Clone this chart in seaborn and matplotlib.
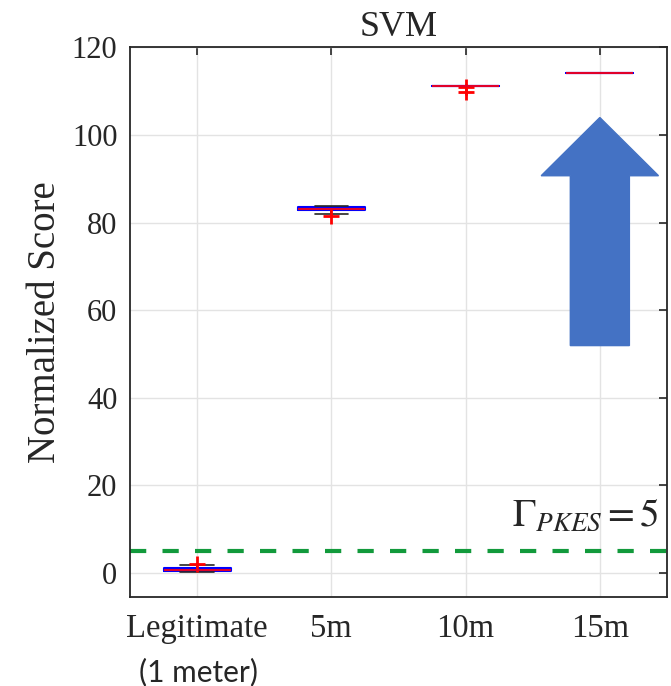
import seaborn as sns
import matplotlib.pyplot as plt
import matplotlib.patches as mpatches
import pandas as pd

## Score samples per distance
legit = [0.1, 0.25, 0.3, 0.45, 0.6, 0.6, 0.75, 1.0, 1.1, 1.8, 2.1]
d5m = [81.5, 81.9, 82.8, 82.9, 83.1, 83.2, 83.3, 83.5, 83.6, 83.7, 83.9]
d10m = [111.2, 111.2, 111.2, 111.2, 111.2, 111.2, 111.2, 111.2, 110.9, 109.8]
d15m = [114.2, 114.2, 114.2, 114.2, 114.2, 114.2, 114.2, 114.2]

categories = ['Legitimate', '5m', '10m', '15m']
threshold = 5
y_ticks = [0, 20, 40, 60, 80, 100, 120]

df = pd.DataFrame({
    'group': [categories[0]] * len(legit) + [categories[1]] * len(d5m)
             + [categories[2]] * len(d10m) + [categories[3]] * len(d15m),
    'score': legit + d5m + d10m + d15m,
})

sns.set_style('white')
plt.rcParams['font.family'] = ['Liberation Serif', 'DejaVu Serif']
plt.rcParams['mathtext.fontset'] = 'stix'

fig = plt.figure(figsize=(6.71, 6.86), dpi=100)
ax = fig.add_axes([0.1937, 0.1293, 0.8003, 0.8015])

sns.boxplot(x='group', y='score', data=df, order=categories, ax=ax,
            width=0.5, fill=False, linewidth=1.5,
            boxprops=dict(color='#0000ff'),
            medianprops=dict(color='#e0002a', linewidth=1.5),
            whiskerprops=dict(color='#262626', linewidth=1.2),
            capprops=dict(color='#262626', linewidth=1.2),
            flierprops=dict(marker='+', markeredgecolor='#ff0000',
                            markersize=11, markeredgewidth=2))

# Threshold line
ax.axhline(threshold, color='#129a3c', linewidth=3, linestyle=(0, (3.9, 3.9)), zorder=1)
ax.text(3.44, 10.6, r'$\Gamma_{PKES} = 5$', fontsize=28, ha='right', va='baseline')

# Big arrow pointing up
arrow = mpatches.Polygon([(2.78, 51.9), (3.22, 51.9), (3.22, 90.7), (3.437, 90.7),
                          (3.0, 104.0), (2.563, 90.7), (2.78, 90.7)],
                         closed=True, facecolor='#4472c4', edgecolor='#4472c4', zorder=3)
ax.add_patch(arrow)

ax.set_xlim(-0.5, 3.5)
ax.set_ylim(-5.6, 120)
ax.set_yticks(y_ticks)
ax.set_title('SVM', fontsize=26, pad=8)
ax.set_xlabel('')
ax.set_ylabel('Normalized Score', fontsize=28, labelpad=6)
ax.tick_params(axis='both', direction='in', length=6, width=1.2,
               top=True, right=True, colors='#262626')
ax.tick_params(axis='y', labelsize=22, pad=9)
ax.tick_params(axis='x', labelsize=23.5, pad=12)
ax.grid(True, color='#e3e3e3', linewidth=1)
ax.set_axisbelow(True)
for s in ax.spines.values():
    s.set_color('#262626')
    s.set_linewidth(1.3)

fig.text(0.2951, 0.0, '(1 meter)', fontsize=21.5, family=['Lato', 'DejaVu Sans'],
         ha='center', va='bottom')

plt.savefig('out.png', dpi=100)
